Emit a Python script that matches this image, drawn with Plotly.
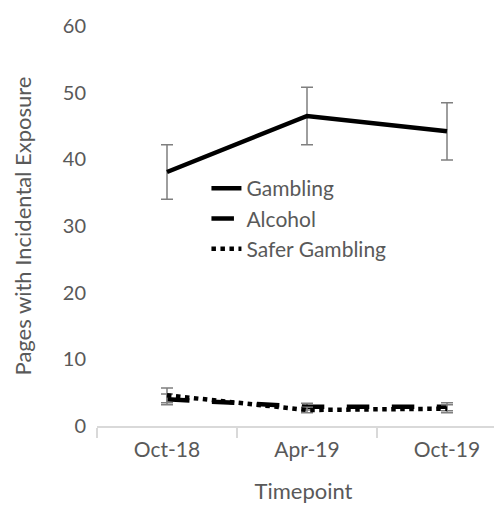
import plotly.graph_objects as go

timepoints = ["Oct-18", "Apr-19", "Oct-19"]
gambling = [38.1, 46.5, 44.2]
gambling_err = [4.1, 4.3, 4.3]
alcohol = [4.0, 2.9, 2.9]
alcohol_err = [0.8, 0.5, 0.6]
safer = [4.6, 2.4, 2.6]
safer_err = [1.1, 0.4, 0.6]

FONT = "Lato"
GRAY = "#595959"
ERR = "#7f7f7f"

fig = go.Figure()

def add(name, y, err, dash):
    fig.add_trace(go.Scatter(
        x=timepoints, y=y, name=name, mode="lines",
        line=dict(color="black", width=4.5, dash=dash),
        error_y=dict(type="data", array=err, visible=True, color=ERR,
                     thickness=1.5, width=6),
    ))

add("Gambling", gambling, gambling_err, "solid")
add("Alcohol", alcohol, alcohol_err, "longdash")
add("Safer Gambling", safer, safer_err, "dot")

fig.update_layout(
    width=502, height=510,
    margin=dict(l=89, r=0, t=18, b=92),
    paper_bgcolor="white", plot_bgcolor="white",
    font=dict(family=FONT, size=20, color=GRAY),
    showlegend=True,
    legend=dict(x=0.265, y=0.645, xanchor="left", yanchor="top",
                bgcolor="rgba(0,0,0,0)", font=dict(size=21, color=GRAY),
                itemwidth=30, tracegroupgap=0),
    xaxis=dict(
        type="category", range=[-0.5, 2.45],
        showline=True, linecolor="#d9d9d9", linewidth=1.5,
        ticks="outside", tickson="boundaries", ticklen=10,
        tickcolor="#d9d9d9", tickwidth=1.5, ticklabelstandoff=4,
        tickfont=dict(size=21),
        showgrid=False, zeroline=False,
        title=dict(text="Timepoint", standoff=24, font=dict(size=22)),
    ),
    yaxis=dict(
        range=[0, 60], dtick=10, showgrid=False, zeroline=False,
        showline=False, ticks="", ticklabelstandoff=10,
        tickfont=dict(size=20),
        title=dict(text="Pages with Incidental Exposure", standoff=25,
                   font=dict(size=22)),
    ),
)

fig.write_html("out.html")
